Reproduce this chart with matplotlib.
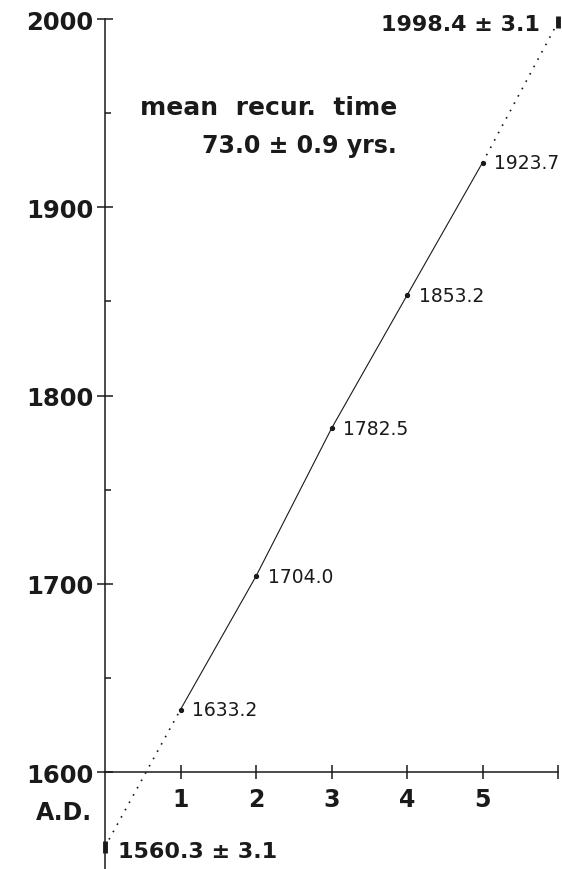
import matplotlib.pyplot as plt

plt.rcParams['font.family'] = 'DejaVu Sans'

# recurrence number and observed year of each event
events = [1, 2, 3, 4, 5]
years = [1633.2, 1704.0, 1782.5, 1853.2, 1923.7]

# extrapolated ends of the fitted line (event 0 and event 6) with error
end_events = [0, 6]
end_years = [1560.3, 1998.4]
end_err = 3.1

mean_period = 73.0
mean_err = 0.9

ytick_vals = [1600, 1700, 1800, 1900, 2000]
xtick_vals = [1, 2, 3, 4, 5, 6]
xtick_text = ['1', '2', '3', '4', '5', '']

ink = '#1a1a1a'

fig = plt.figure(figsize=(5.62, 8.70), dpi=100)
ax = fig.add_axes([105 / 562, 0, 453 / 562, 850 / 870])
ax.set_xlim(0, 6)
ax.set_ylim(1548.5, 2000)

# solid line through the observations, dotted extrapolation at both ends
ax.plot(events, years, color=ink, lw=0.8, marker='o', ms=2.8, zorder=3)
ax.plot([end_events[0], events[0]], [end_years[0], years[0]],
        color=ink, lw=1.2, ls=(0, (1, 4)), clip_on=False)
ax.plot([events[-1], end_events[1]], [years[-1], end_years[1]],
        color=ink, lw=1.2, ls=(0, (1, 4)), clip_on=False)
ax.errorbar(end_events, end_years, yerr=end_err, fmt='none',
            ecolor=ink, elinewidth=3.5, capsize=0, clip_on=False, zorder=4)

for x, y in zip(events, years):
    ax.annotate(f'{y:.1f}', (x, y), xytext=(8.5, 0), textcoords='offset points',
                va='center', ha='left', fontsize=13.5, color=ink)

ax.text(5.76, end_years[1] - 1.2, f'{end_years[1]:.1f} ± {end_err}',
        ha='right', va='center', fontsize=16, fontweight='bold', color=ink)
ax.text(0.17, end_years[0] - 2.0, f'{end_years[0]:.1f} ± {end_err}',
        ha='left', va='center', fontsize=16, fontweight='bold', color=ink)

ax.text(3.87, 1949.5, 'mean  recur.  time', ha='right', va='baseline',
        fontsize=18, fontweight='bold', color=ink)
ax.text(3.87, 1929.3, f'{mean_period:.1f} ± {mean_err} yrs.', ha='right',
        va='baseline', fontsize=17, fontweight='bold', color=ink)

ax.text(-0.17, 1578.7, 'A.D.', ha='right', va='center',
        fontsize=17, fontweight='bold', color=ink)

# axes: y axis on the left edge, x axis crossing at 1600
for side in ['top', 'right']:
    ax.spines[side].set_visible(False)
ax.spines['bottom'].set_position(('data', 1600))
for side in ['left', 'bottom']:
    ax.spines[side].set_linewidth(1.1)
    ax.spines[side].set_color(ink)

ax.set_yticks(ytick_vals)
ax.set_yticks([1650, 1750, 1850, 1950], minor=True)
ax.set_xticks(xtick_vals)
ax.set_xticklabels(xtick_text)
ax.tick_params(axis='y', which='major', direction='inout', length=11,
               width=1.1, pad=3, labelsize=17.5, colors=ink)
ax.tick_params(axis='y', which='minor', direction='in', length=4,
               width=1.1, colors=ink)
ax.tick_params(axis='x', which='major', direction='inout', length=10,
               width=1.1, pad=6, labelsize=17, colors=ink)
for lab in ax.get_xticklabels() + ax.get_yticklabels():
    lab.set_fontweight('bold')

fig.savefig('out.png', dpi=100)
